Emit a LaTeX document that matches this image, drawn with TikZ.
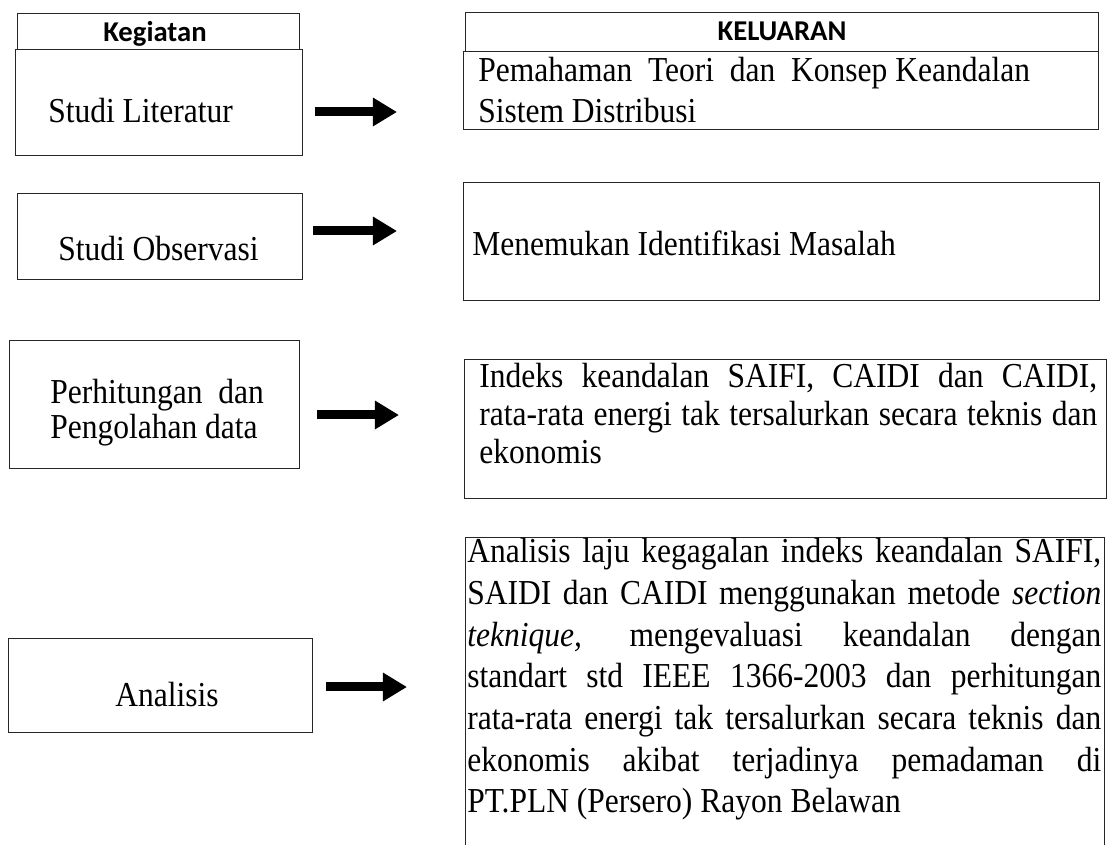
\documentclass[tikz,border=0pt]{standalone}
\usepackage{fontspec}
\setmainfont{Liberation Serif}[FakeStretch=0.9]
\newfontfamily\headfont{Carlito}
\usetikzlibrary{arrows.meta}

\tikzset{
  cell/.style={draw=black!85, line width=0.6pt, inner sep=0pt},
  headtxt/.style={font=\headfont\bfseries\fontsize{20.4}{24}\selectfont, inner sep=0pt, anchor=base},
  bodytxt/.style={font=\fontsize{24.9}{29.6}\selectfont, inner sep=0pt, anchor=base west},
  bigarrow/.style={line width=6.4pt, -{Triangle[length=0.6cm, width=0.675cm]}},
}
\newcommand{\plainspacing}{\spaceskip=0pt\xspaceskip=0pt\relax}
\newcommand{\fillline}[1]{\makebox[\linewidth][s]{#1}}

\begin{document}
\begin{tikzpicture}[x=0.025cm, y=-0.025cm]
  \useasboundingbox (0,0) rectangle (1113,845);

  % kolom kegiatan
  \node[cell, minimum width=282*0.025cm, minimum height=36*0.025cm] (headK) at (158,31) {};
  \node[headtxt] (headKtxt) at (155,42) {Kegiatan};
  \node[cell, minimum width=287*0.025cm, minimum height=106*0.025cm] (lit) at (158.5,102) {};
  \node[bodytxt] (littxt) at (48,123) {Studi Literatur};
  \node[cell, minimum width=285*0.025cm, minimum height=86*0.025cm] (obs) at (159.5,236) {};
  \node[bodytxt] (obstxt) at (58,261) {Studi Observasi};
  \node[cell, minimum width=290*0.025cm, minimum height=128*0.025cm] (hit) at (154,404) {};
  \node[bodytxt, text width=270*0.025cm,
        font=\fontsize{24.9}{24.2}\selectfont] (hittxt) at (50,404)
        {\plainspacing Perhitungan\ \ dan\\ Pengolahan data};
  \node[cell, minimum width=304*0.025cm, minimum height=94*0.025cm] (ana) at (160,685) {};
  \node[bodytxt] (anatxt) at (115,706) {Analisis};

  % kolom keluaran
  \node[cell, minimum width=633*0.025cm, minimum height=39*0.025cm] (headO) at (781.5,31.5) {};
  \node[headtxt] (headOtxt) at (782,41) {KELUARAN};
  \node[cell, minimum width=635*0.025cm, minimum height=78*0.025cm] (pem) at (780.5,90) {};
  \node[bodytxt, text width=610*0.025cm,
        font=\fontsize{24.9}{28.45}\selectfont] (pemtxt) at (478,82)
        {\plainspacing Pemahaman\ \ Teori\ \ dan\ \ Konsep Keandalan\\ Sistem Distribusi};
  \node[cell, minimum width=636*0.025cm, minimum height=118*0.025cm] (men) at (781,241) {};
  \node[bodytxt] (mentxt) at (472,256) {Menemukan Identifikasi Masalah};
  \node[cell, minimum width=642*0.025cm, minimum height=139*0.025cm] (idx) at (785,428.5) {};
  \node[bodytxt, text width=618*0.025cm,
        font=\fontsize{24.9}{26.7}\selectfont] (idxtxt) at (479,388)
        {\plainspacing
         \fillline{Indeks keandalan SAIFI, CAIDI dan CAIDI,}\\
         \fillline{rata-rata energi tak tersalurkan secara teknis dan}\\
         ekonomis};
  \coordinate (resBL) at (465,845);
  \coordinate (resTR) at (1104,537);
  \coordinate (resBR) at (1104,845);
  \draw[draw=black!85, line width=0.6pt] (resBL) |- (resTR) -- (resBR);
  \node[bodytxt, text width=634*0.025cm] (restxt) at (467,563)
        {\plainspacing
         \fillline{Analisis laju kegagalan indeks keandalan SAIFI,}\\
         \fillline{SAIDI dan CAIDI menggunakan metode \textit{section}}\\
         \fillline{\textit{teknique,} mengevaluasi keandalan dengan}\\
         \fillline{standart std IEEE 1366-2003 dan perhitungan}\\
         \fillline{rata-rata energi tak tersalurkan secara teknis dan}\\
         \fillline{ekonomis akibat terjadinya pemadaman di}\\
         PT.PLN (Persero) Rayon Belawan};

  % panah
  \coordinate (a1s) at (315,112);  \coordinate (a1e) at (397,112);
  \coordinate (a2s) at (313,231);  \coordinate (a2e) at (397,231);
  \coordinate (a3s) at (317,415);  \coordinate (a3e) at (399,415);
  \coordinate (a4s) at (326,687);  \coordinate (a4e) at (407,687);
  \draw[bigarrow] (a1s) -- (a1e);
  \draw[bigarrow] (a2s) -- (a2e);
  \draw[bigarrow] (a3s) -- (a3e);
  \draw[bigarrow] (a4s) -- (a4e);
\end{tikzpicture}
\end{document}
